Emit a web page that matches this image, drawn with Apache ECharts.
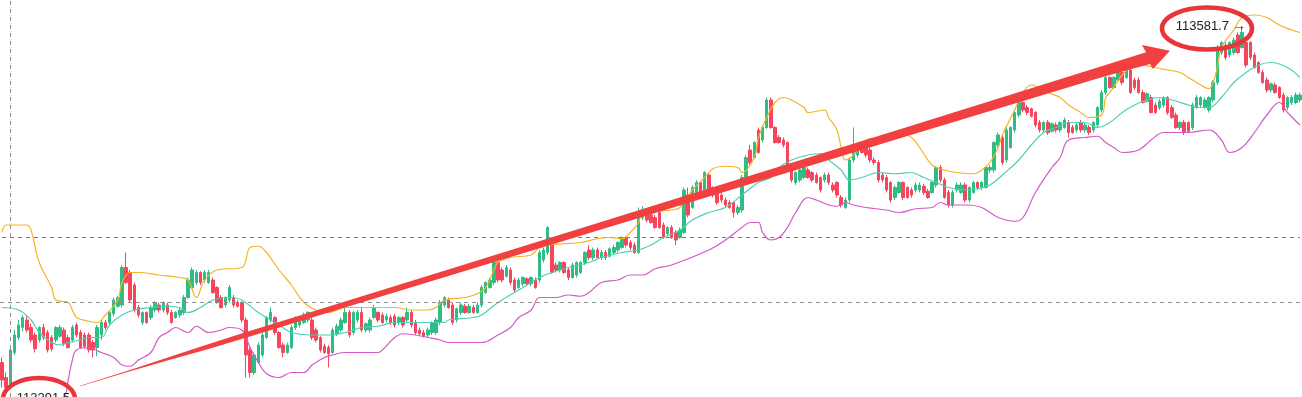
<!DOCTYPE html>
<html>
<head>
<meta charset="utf-8"/>
<title>K线 布林带</title>
<script type="text/javascript" src="https://cdn.jsdelivr.net/npm/echarts@6/dist/echarts.min.js"></script>
<style type="text/css">
	body{
		margin: 0px;
		padding: 0px;
		background: #fff;
	}
	#chart{
		width: 1302px;
		height: 397px;
	}
</style>
</head>
<body>
	<div id="chart"></div>
<script type="text/javascript">
	// K线数据 [开, 收, 低, 高]
	var candles = [
		[113314,113300,113294,113318],[113302,113294,113291.5,113306],[113294,113324,113293,113326],[113322,113336,113320,113340],
		[113334,113344,113332,113348],[113342,113350,113339,113352],[113348,113340,113338,113351],[113342,113332,113330,113345],
		[113336,113325,113322,113338],[113332,113342,113330,113343],[113342,113334,113332,113345],[113338,113324,113322,113340],
		[113334,113325,113323,113336],[113332,113342,113330,113343],[113335,113342,113334,113344],[113340,113329,113327,113342],
		[113334,113326,113325,113336],[113332,113342,113330,113344],[113344,113336,113334,113346],[113338,113326,113325,113340],
		[113336,113327,113325,113338],[113336,113324,113322,113338],[113330,113324,113318,113332],[113326,113342,113319,113344],
		[113336,113346,113332,113348],[113346,113342,113340,113348],[113346,113354,113344,113356],[113353,113364,113351,113366],
		[113359,113366,113358,113367],[113360,113390,113358,113392],[113390,113378,113377,113402],[113386,113364,113362,113388],
		[113376,113356,113354,113378],[113358,113352,113350,113360],[113346,113354,113344,113355],[113354,113346,113345,113355],
		[113350,113358,113348,113360],[113356,113362,113354,113363],[113360,113356,113354,113362],[113356,113362,113354,113363],
		[113360,113354,113352,113362],[113354,113346,113345,113356],[113350,113354,113349,113355],[113352,113356,113350,113358],
		[113354,113366,113352,113368],[113366,113380,113365,113382],[113374,113388,113373,113390],[113378,113386,113376,113388],
		[113386,113378,113376,113387],[113380,113386,113378,113388],[113378,113386,113377,113388],[113380,113370,113369,113382],
		[113374,113362,113361,113375],[113366,113358,113357,113368],[113360,113366,113358,113367],[113364,113374,113362,113376],
		[113366,113360,113358,113368],[113362,113359,113358,113364],[113362,113348,113346,113363],[113348,113320,113302,113350],
		[113324,113306,113302,113326],[113306,113320,113304,113322],[113314,113328,113313,113330],[113320,113336,113318,113338],
		[113334,113350,113333,113351],[113348,113354,113346,113358],[113350,113338,113336,113351],[113338,113326,113325,113339],
		[113328,113322,113318,113330],[113322,113328,113321,113330],[113326,113342,113325,113344],[113342,113350,113340,113351],
		[113344,113350,113342,113351],[113346,113352,113345,113354],[113348,113354,113346,113355],[113348,113334,113332,113350],
		[113340,113332,113330,113342],[113334,113324,113322,113335],[113327,113322,113321,113329],[113326,113321,113310,113328],
		[113322,113340,113321,113342],[113337,113343,113335,113345],[113340,113348,113338,113350],[113346,113354,113345,113358],
		[113354,113336,113334,113356],[113338,113354,113336,113355],[113348,113354,113346,113356],[113354,113340,113338,113358],
		[113340,113345,113338,113346],[113340,113348,113338,113350],[113350,113358,113349,113360],[113354,113348,113346,113355],
		[113352,113346,113345,113354],[113348,113351,113346,113353],[113350,113346,113344,113352],[113351,113344,113342,113353],
		[113346,113350,113344,113351],[113350,113344,113342,113351],[113348,113354,113346,113358],[113354,113344,113342,113356],
		[113346,113338,113336,113348],[113340,113337,113335,113342],[113338,113335,113334,113340],[113336,113340,113334,113342],
		[113338,113346,113336,113347],[113338,113348,113336,113350],[113346,113362,113344,113364],[113360,113366,113358,113367],
		[113364,113358,113357,113366],[113360,113346,113344,113362],[113348,113357,113346,113358],[113354,113360,113352,113362],
		[113359,113354,113353,113361],[113354,113359,113353,113361],[113358,113354,113353,113360],[113354,113360,113353,113362],
		[113360,113374,113358,113376],[113370,113378,113369,113379],[113374,113380,113373,113382],[113378,113394,113376,113396],
		[113394,113380,113378,113395],[113388,113380,113378,113390],[113383,113390,113382,113392],[113388,113378,113376,113390],
		[113380,113372,113370,113382],[113374,113380,113373,113382],[113377,113382,113375,113383],[113381,113377,113375,113382],
		[113377,113382,113375,113383],[113380,113374,113373,113382],[113380,113402,113378,113404],[113396,113404,113394,113406],
		[113402,113422,113400,113423],[113412,113386,113385,113414],[113392,113388,113386,113394],[113388,113394,113386,113395],
		[113394,113386,113385,113395],[113388,113382,113380,113390],[113382,113392,113381,113394],[113384,113394,113382,113395],
		[113386,113394,113385,113395],[113394,113402,113392,113403],[113404,113398,113396,113408],[113398,113404,113396,113406],
		[113404,113398,113397,113406],[113398,113402,113396,113404],[113402,113398,113396,113404],[113399,113405,113398,113406],
		[113402,113406,113400,113408],[113404,113410,113402,113411],[113406,113414,113405,113415],[113414,113408,113406,113415],
		[113410,113406,113404,113412],[113408,113402,113401,113410],[113402,113434,113401,113438],[113430,113434,113428,113439],
		[113434,113428,113426,113435],[113432,113426,113425,113434],[113430,113422,113421,113432],[113434,113422,113421,113435],
		[113424,113414,113413,113426],[113417,113422,113415,113423],[113422,113414,113413,113424],[113418,113412,113408,113420],
		[113414,113420,113413,113422],[113418,113452,113417,113454],[113448,113432,113430,113454],[113438,113454,113437,113456],
		[113450,113458,113448,113460],[113458,113450,113449,113459],[113452,113466,113450,113467],[113464,113452,113450,113466],
		[113454,113448,113446,113455],[113450,113442,113440,113451],[113448,113444,113442,113450],[113444,113440,113438,113446],
		[113442,113438,113437,113444],[113442,113434,113430,113443],[113434,113438,113432,113440],[113436,113462,113434,113464],
		[113462,113478,113461,113480],[113484,113474,113472,113488],[113478,113490,113477,113491],[113500,113482,113481,113502],
		[113492,113502,113490,113504],[113502,113524,113501,113526],[113524,113502,113501,113526],[113502,113490,113489,113503],
		[113494,113490,113489,113496],[113492,113488,113486,113494],[113490,113472,113470,113491],[113468,113460,113458,113470],
		[113458,113466,113456,113467],[113460,113468,113458,113470],[113462,113470,113461,113472],[113468,113462,113461,113470],
		[113466,113460,113458,113467],[113464,113458,113457,113466],[113462,113452,113450,113463],[113460,113464,113458,113466],
		[113464,113458,113456,113466],[113456,113452,113450,113458],[113458,113448,113446,113459],[113446,113440,113438,113448],
		[113438,113444,113437,113446],[113444,113476,113442,113478],[113476,113482,113474,113502],[113480,113488,113478,113490],
		[113489,113482,113481,113490],[113486,113480,113478,113487],[113484,113476,113474,113486],[113476,113474,113472,113478],
		[113474,113460,113458,113476],[113464,113460,113458,113466],[113462,113452,113450,113464],[113458,113444,113442,113459],
		[113446,113454,113444,113456],[113450,113458,113449,113459],[113458,113446,113444,113459],[113454,113446,113445,113455],
		[113452,113448,113446,113454],[113452,113456,113450,113458],[113452,113456,113450,113458],[113455,113450,113448,113457],
		[113451,113446,113445,113453],[113450,113458,113449,113459],[113456,113470,113454,113471],[113470,113460,113458,113472],
		[113460,113446,113445,113462],[113450,113440,113438,113452],[113440,113450,113438,113452],[113452,113456,113450,113458],
		[113450,113456,113449,113458],[113456,113444,113442,113458],[113444,113454,113442,113455],[113450,113458,113449,113459],
		[113458,113454,113452,113459],[113454,113458,113452,113459],[113454,113470,113453,113471],[113468,113470,113466,113472],
		[113468,113490,113466,113491],[113488,113496,113486,113498],[113494,113474,113472,113496],[113476,113500,113474,113502],
		[113486,113502,113485,113503],[113500,113514,113498,113515],[113512,113522,113510,113523],[113522,113516,113514,113523],
		[113518,113514,113512,113520],[113517,113511,113510,113518],[113514,113504,113502,113515],[113506,113500,113498,113508],
		[113500,113506,113498,113507],[113506,113498,113496,113508],[113499,113505,113498,113506],[113504,113500,113498,113506],
		[113500,113506,113498,113507],[113502,113508,113501,113510],[113506,113498,113494,113508],[113502,113498,113497,113504],
		[113500,113504,113498,113506],[113506,113500,113498,113508],[113500,113504,113498,113506],[113502,113498,113496,113504],
		[113500,113506,113498,113507],[113504,113518,113502,113519],[113516,113530,113514,113532],[113530,113542,113528,113544],
		[113542,113534,113533,113543],[113534,113542,113533,113543],[113540,113546,113538,113548],[113546,113538,113536,113550],
		[113542,113548,113541,113550],[113548,113530,113529,113550],[113540,113534,113532,113542],[113540,113530,113529,113542],
		[113530,113522,113521,113532],[113523,113529,113522,113530],[113526,113514,113513,113528],[113520,113514,113513,113522],
		[113518,113523,113516,113525],[113520,113526,113518,113527],[113526,113514,113512,113527],[113518,113510,113509,113520],
		[113512,113502,113501,113514],[113502,113506,113500,113507],[113506,113498,113496,113508],[113506,113499,113498,113507],
		[113502,113520,113500,113522],[113518,113526,113517,113528],[113520,113526,113518,113527],[113518,113524,113517,113526],
		[113516,113526,113514,113527],[113524,113538,113522,113540],[113538,113566,113536,113568],[113562,113570,113560,113571],
		[113568,113558,113556,113570],[113560,113570,113558,113571],[113562,113572,113560,113574],[113576,113562,113561,113578],
		[113566,113578,113565,113581.7],[113570,113552,113550,113572],[113570,113558,113556,113571],[113560,113550,113549,113562],
		[113554,113546,113545,113555],[113546,113538,113537,113548],[113540,113532,113530,113542],[113532,113537,113530,113538],
		[113536,113530,113529,113538],[113534,113526,113525,113535],[113528,113516,113514,113530],[113518,113526,113516,113527],
		[113522,113526,113520,113528],[113522,113528,113521,113530],[113524,113528,113522,113530]
	];
	// 布林带 上轨 [序号, 价格]
	var upperBand = [
		[0,113418],[1,113424],[6,113424],[7,113420],[9,113394],[12,113374],[13,113364],[16,113362],[17,113356],[18,113350],
		[21,113347],[23,113346],[25,113352],[28,113364],[29,113378],[31,113386],[33,113386],[38,113384],[43,113382],[45,113380],
		[47,113366],[49,113380],[52,113388],[58,113390],[60,113406],[62,113407],[64,113402],[67,113388],[70,113376],[73,113362],
		[76,113356],[79,113354],[83,113358],[87,113358],[91,113358],[95,113358],[99,113356],[103,113356],[105,113358],[107,113364],
		[112,113366],[115,113369],[117,113374],[119,113388],[120,113394],[123,113398],[128,113400],[130,113406],[132,113408],
		[136,113409],[140,113410],[144,113413],[147,113414],[150,113413],[152,113418],[154,113426],[155,113434],[158,113435],
		[162,113436],[164,113438],[167,113452],[170,113462],[172,113469],[175,113471],[178,113470],[179,113466],[182,113478],
		[183,113494],[185,113510],[187,113522],[189,113526],[191,113524],[194,113518],[195,113514],[199,113516],[200,113510],
		[202,113500],[203,113486],[204,113476],[206,113480],[209,113492],[212,113494],[217,113498],[220,113494],[222,113486],
		[225,113472],[228,113468],[231,113466],[235,113465],[237,113468],[239,113474],[241,113486],[242,113496],[245,113516],
		[247,113530],[249,113536],[253,113530],[256,113526],[258,113520],[261,113514],[263,113510],[266,113512],[267,113526],
		[268,113530],[271,113544],[273,113550],[275,113552],[279,113550],[282,113548],[285,113546],[287,113542],[290,113536],
		[292,113533],[293,113538],[294,113550],[295,113566],[298,113580],[300,113590],[303,113592],[306,113590],[309,113584],
		[312,113580],[314,113578]
	];
	// 中轨
	var midBand = [
		[0,113358],[4,113356],[7,113348],[9,113338],[12,113330],[14,113328],[16,113330],[19,113332],[21,113334],[24,113334],
		[26,113344],[29,113352],[32,113356],[36,113358],[40,113359],[43,113358],[45,113354],[48,113358],[51,113364],[55,113366],
		[58,113364],[62,113354],[67,113344],[70,113338],[75,113336],[79,113336],[83,113338],[87,113342],[91,113343],[95,113346],
		[99,113346],[103,113346],[107,113346],[108,113348],[114,113350],[116,113352],[120,113362],[124,113370],[128,113378],
		[130,113382],[133,113386],[137,113390],[142,113394],[145,113398],[150,113402],[154,113404],[157,113408],[160,113414],
		[164,113420],[167,113428],[171,113434],[175,113438],[179,113448],[183,113458],[186,113462],[188,113470],[191,113476],
		[195,113480],[198,113481],[200,113476],[203,113468],[205,113460],[208,113462],[212,113466],[216,113465],[220,113466],
		[223,113462],[226,113458],[229,113454],[233,113452],[236,113453],[239,113456],[242,113464],[246,113476],[249,113488],
		[252,113498],[255,113502],[258,113506],[262,113506],[265,113502],[268,113506],[271,113514],[274,113520],[277,113524],
		[280,113526],[283,113524],[287,113520],[289,113518],[292,113518],[295,113526],[298,113538],[301,113546],[304,113552],
		[307,113554],[311,113550],[314,113542]
	];
	// 下轨
	var lowerBand = [
		[0,113264],[10,113270],[15,113286],[16,113300],[17,113316],[18,113324],[21,113326],[24,113322],[27,113318],[29,113312],
		[31,113311],[33,113316],[36,113322],[38,113334],[40,113338],[42,113342],[45,113338],[47,113343],[50,113338],[53,113340],
		[55,113342],[58,113340],[60,113326],[62,113314],[64,113305],[67,113302],[70,113306],[73,113306],[75,113312],[78,113318],
		[80,113320],[83,113322],[87,113322],[91,113322],[92,113324],[95,113334],[97,113337],[100,113336],[103,113334],[106,113332],
		[108,113330],[112,113330],[116,113330],[120,113336],[123,113342],[125,113350],[128,113356],[130,113366],[132,113366],
		[134,113366],[137,113368],[140,113367],[142,113370],[145,113378],[149,113380],[152,113384],[155,113384],[158,113389],
		[162,113392],[171,113404],[175,113412],[179,113422],[181,113426],[183,113426],[184,113418],[186,113412],[188,113414],
		[190,113422],[192,113434],[195,113446],[197,113444],[200,113440],[202,113439],[204,113442],[206,113440],[209,113438],
		[214,113436],[217,113434],[221,113437],[225,113438],[227,113442],[229,113440],[234,113440],[237,113438],[239,113434],
		[241,113430],[245,113427],[247,113430],[250,113450],[254,113470],[256,113478],[258,113492],[262,113494],[265,113495],
		[267,113490],[269,113486],[271,113482],[275,113484],[278,113492],[281,113498],[284,113498],[287,113498],[292,113500],
		[295,113492],[297,113482],[300,113486],[303,113498],[306,113512],[309,113522],[311,113514],[314,113504]
	];
	// 水平虚线价位
	var levelLines = [113414, 113362];
	var categories = candles.map(function(d, i){ return i; });

	// 箭头轮廓 [x, 半宽]
	var arrowProfile = [[80,0.2],[130,0.6],[170,1.5],[205,2.4],[240,2.8],[450,3.3],[670,4.1],[900,4.6],[1100,5.6],[1146,5.8]];
	function arrowPoints(){
		var cy = function(x){ return 386 - 0.3076 * (x - 80); };
		var top = [], bottom = [];
		for(var i=0;i<arrowProfile.length;i++){
			var x = arrowProfile[i][0], w = arrowProfile[i][1];
			top.push([x, cy(x) - w]);
			bottom.unshift([x + (i == arrowProfile.length-1 ? 4 : 0), cy(x) + w]);
		}
		return top.concat([[1142,45],[1170,50.7],[1153,69]]).concat(bottom);
	}

	var myChart = echarts.init(document.getElementById('chart'));
	var option = {
		animation: false,
		grid: {
			left: 0,
			right: 0,
			top: 0,
			bottom: 0
		},
		xAxis: {
			type: 'category',
			data: categories,
			show: false,
			boundaryGap: true
		},
		yAxis: {
			type: 'value',
			show: false,
			min: 113286.4,
			max: 113604,
			splitLine: { show: false }
		},
		series: [
			{
				name: 'LV',
				type: 'line',
				data: [[0, levelLines[0]], [categories.length - 1, levelLines[0]]],
				showSymbol: false,
				silent: true,
				z: 1,
				lineStyle: { color: '#e8465e', type: [4, 4], width: 1 }
			},
			{
				name: 'K',
				type: 'candlestick',
				barWidth: 3,
				data: candles,
				itemStyle: {
					color: '#2ebd85',
					color0: '#f6465d',
					borderColor: '#2ebd85',
					borderColor0: '#f6465d',
					borderWidth: 1
				},
				markLine: {
					silent: true,
					symbol: ['none', 'none'],
					label: { show: false },
					lineStyle: { color: '#8f8f8f', type: [4, 4], width: 1 },
					data: [
						{ yAxis: levelLines[1] },
						{ xAxis: 2 }
					]
				},
				markPoint: {
					silent: true,
					symbol: 'circle',
					symbolSize: 1,
					itemStyle: { color: 'rgba(0,0,0,0)' },
					data: [
						{
							type: 'max', valueDim: 'highest',
							label: { position: 'left', distance: 2, offset: [6, -1], formatter: '{c} →', color: '#222', fontSize: 13, fontFamily: 'Liberation Sans' }
						},
						{
							type: 'min', valueDim: 'lowest',
							label: { position: 'right', distance: 10, offset: [0, 8], formatter: '{c}', color: '#222', fontSize: 13, fontFamily: 'Liberation Sans' }
						}
					]
				}
			},
			{
				name: 'UP',
				type: 'line',
				data: upperBand,
				smooth: 0.4,
				showSymbol: false,
				silent: true,
				z: 3,
				lineStyle: { color: '#f5b324', width: 1.2 }
			},
			{
				name: 'MB',
				type: 'line',
				data: midBand,
				smooth: 0.4,
				showSymbol: false,
				silent: true,
				z: 3,
				lineStyle: { color: '#4dd0b4', width: 1.2 }
			},
			{
				name: 'DN',
				type: 'line',
				data: lowerBand,
				smooth: 0.4,
				showSymbol: false,
				silent: true,
				z: 3,
				lineStyle: { color: '#d458c8', width: 1.2 }
			}
		],
		graphic: [
			{
				type: 'polygon',
				z: 100,
				silent: true,
				shape: { points: arrowPoints() },
				style: { fill: '#f23f3f' }
			},
			{
				type: 'ellipse',
				z: 100,
				silent: true,
				shape: { cx: 1207, cy: 28.5, rx: 45, ry: 21 },
				style: { fill: 'none', stroke: '#e8353a', lineWidth: 4.5 }
			},
			{
				type: 'ellipse',
				z: 100,
				silent: true,
				shape: { cx: 39, cy: 399, rx: 36, ry: 21 },
				style: { fill: 'none', stroke: '#e8353a', lineWidth: 4.5 }
			}
		]
	};
	myChart.setOption(option);
</script>
</body>
</html>
